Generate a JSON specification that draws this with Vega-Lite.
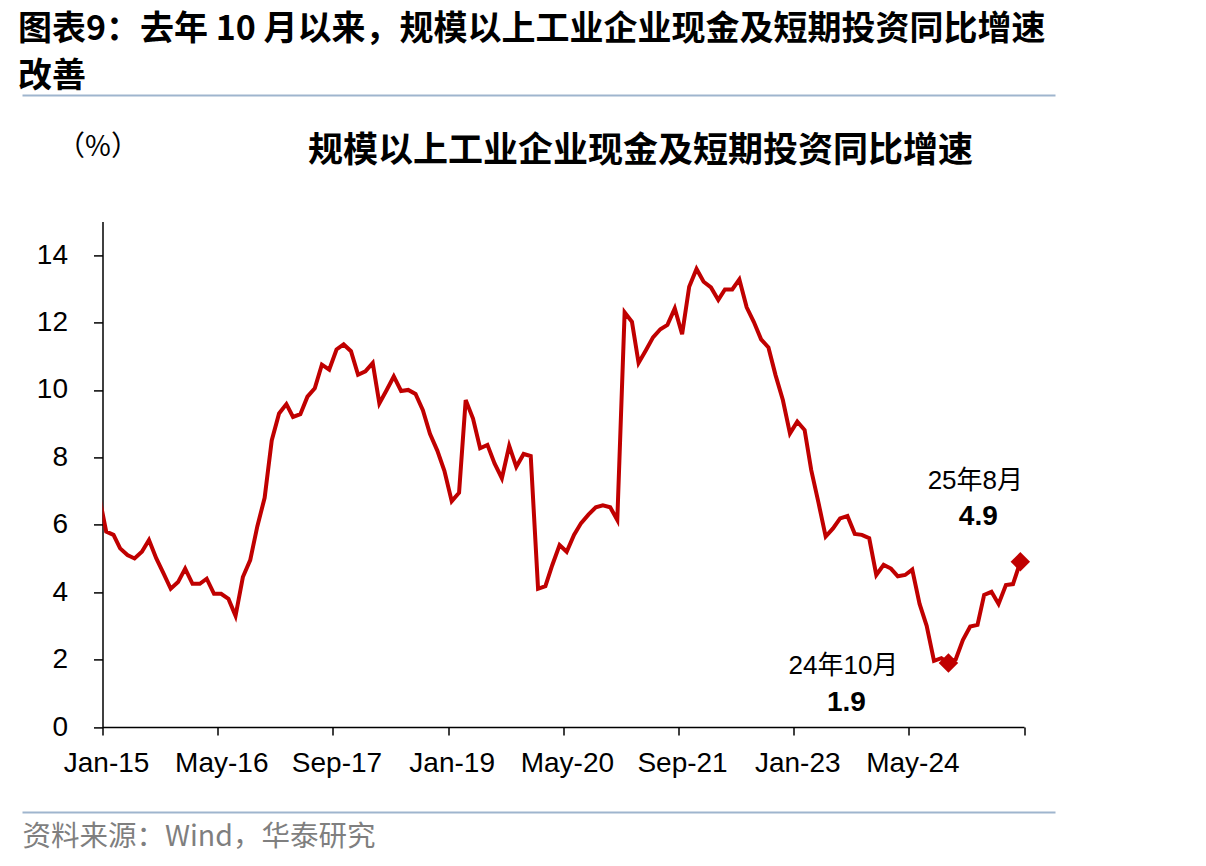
{
  "$schema": "https://vega.github.io/schema/vega-lite/v6.json",
  "width": 921.5,
  "height": 505.6,
  "autosize": "none",
  "padding": {"left": 102.5, "top": 221.4, "right": 182, "bottom": 139},
  "background": "white",
  "config": {"view": {"stroke": null}, "axis": {"grid": false}},
  "title": {
    "text": ["图表9：去年 10 月以来，规模以上工业企业现金及短期投资同比增速", "改善"],
    "anchor": "start",
    "frame": "bounds",
    "font": "Noto Sans CJK SC",
    "fontSize": 34,
    "fontWeight": "bold",
    "color": "black",
    "lineHeight": 47,
    "offset": 1
  },
  "datasets": {
    "main": [
      {"month": "2014-12-01", "v": 6.9},
      {"month": "2015-01-01", "v": 5.8},
      {"month": "2015-02-01", "v": 5.7},
      {"month": "2015-03-01", "v": 5.3},
      {"month": "2015-04-01", "v": 5.1},
      {"month": "2015-05-01", "v": 5.0},
      {"month": "2015-06-01", "v": 5.2},
      {"month": "2015-07-01", "v": 5.55},
      {"month": "2015-08-01", "v": 5.0},
      {"month": "2015-09-01", "v": 4.55},
      {"month": "2015-10-01", "v": 4.1},
      {"month": "2015-11-01", "v": 4.3},
      {"month": "2015-12-01", "v": 4.7},
      {"month": "2016-01-01", "v": 4.25},
      {"month": "2016-02-01", "v": 4.25},
      {"month": "2016-03-01", "v": 4.4},
      {"month": "2016-04-01", "v": 3.95},
      {"month": "2016-05-01", "v": 3.95},
      {"month": "2016-06-01", "v": 3.8},
      {"month": "2016-07-01", "v": 3.3},
      {"month": "2016-08-01", "v": 4.45},
      {"month": "2016-09-01", "v": 4.95},
      {"month": "2016-10-01", "v": 5.95},
      {"month": "2016-11-01", "v": 6.8},
      {"month": "2016-12-01", "v": 8.5},
      {"month": "2017-01-01", "v": 9.3},
      {"month": "2017-02-01", "v": 9.58},
      {"month": "2017-03-01", "v": 9.2},
      {"month": "2017-04-01", "v": 9.28},
      {"month": "2017-05-01", "v": 9.8},
      {"month": "2017-06-01", "v": 10.05},
      {"month": "2017-07-01", "v": 10.75},
      {"month": "2017-08-01", "v": 10.6},
      {"month": "2017-09-01", "v": 11.2},
      {"month": "2017-10-01", "v": 11.35},
      {"month": "2017-11-01", "v": 11.15},
      {"month": "2017-12-01", "v": 10.45},
      {"month": "2018-01-01", "v": 10.55},
      {"month": "2018-02-01", "v": 10.8},
      {"month": "2018-03-01", "v": 9.6},
      {"month": "2018-04-01", "v": 10.0},
      {"month": "2018-05-01", "v": 10.4},
      {"month": "2018-06-01", "v": 9.97},
      {"month": "2018-07-01", "v": 10.0},
      {"month": "2018-08-01", "v": 9.88},
      {"month": "2018-09-01", "v": 9.4},
      {"month": "2018-10-01", "v": 8.7},
      {"month": "2018-11-01", "v": 8.2},
      {"month": "2018-12-01", "v": 7.6},
      {"month": "2019-01-01", "v": 6.7},
      {"month": "2019-02-01", "v": 6.95},
      {"month": "2019-03-01", "v": 9.7},
      {"month": "2019-04-01", "v": 9.15},
      {"month": "2019-05-01", "v": 8.27},
      {"month": "2019-06-01", "v": 8.37},
      {"month": "2019-07-01", "v": 7.82},
      {"month": "2019-08-01", "v": 7.38},
      {"month": "2019-09-01", "v": 8.34},
      {"month": "2019-10-01", "v": 7.72},
      {"month": "2019-11-01", "v": 8.1},
      {"month": "2019-12-01", "v": 8.04},
      {"month": "2020-01-01", "v": 4.1},
      {"month": "2020-02-01", "v": 4.18},
      {"month": "2020-03-01", "v": 4.8},
      {"month": "2020-04-01", "v": 5.4},
      {"month": "2020-05-01", "v": 5.2},
      {"month": "2020-06-01", "v": 5.7},
      {"month": "2020-07-01", "v": 6.05},
      {"month": "2020-08-01", "v": 6.3},
      {"month": "2020-09-01", "v": 6.52},
      {"month": "2020-10-01", "v": 6.58},
      {"month": "2020-11-01", "v": 6.52},
      {"month": "2020-12-01", "v": 6.14},
      {"month": "2021-01-01", "v": 12.3},
      {"month": "2021-02-01", "v": 12.02},
      {"month": "2021-03-01", "v": 10.8},
      {"month": "2021-04-01", "v": 11.18},
      {"month": "2021-05-01", "v": 11.56},
      {"month": "2021-06-01", "v": 11.8},
      {"month": "2021-07-01", "v": 11.93},
      {"month": "2021-08-01", "v": 12.42},
      {"month": "2021-09-01", "v": 11.65},
      {"month": "2021-10-01", "v": 13.06},
      {"month": "2021-11-01", "v": 13.59},
      {"month": "2021-12-01", "v": 13.21},
      {"month": "2022-01-01", "v": 13.04},
      {"month": "2022-02-01", "v": 12.67},
      {"month": "2022-03-01", "v": 12.98},
      {"month": "2022-04-01", "v": 12.98},
      {"month": "2022-05-01", "v": 13.28},
      {"month": "2022-06-01", "v": 12.45},
      {"month": "2022-07-01", "v": 12.02},
      {"month": "2022-08-01", "v": 11.5},
      {"month": "2022-09-01", "v": 11.26},
      {"month": "2022-10-01", "v": 10.44},
      {"month": "2022-11-01", "v": 9.7},
      {"month": "2022-12-01", "v": 8.71},
      {"month": "2023-01-01", "v": 9.06},
      {"month": "2023-02-01", "v": 8.81},
      {"month": "2023-03-01", "v": 7.62},
      {"month": "2023-04-01", "v": 6.64},
      {"month": "2023-05-01", "v": 5.65},
      {"month": "2023-06-01", "v": 5.89},
      {"month": "2023-07-01", "v": 6.19},
      {"month": "2023-08-01", "v": 6.26},
      {"month": "2023-09-01", "v": 5.73},
      {"month": "2023-10-01", "v": 5.7},
      {"month": "2023-11-01", "v": 5.6},
      {"month": "2023-12-01", "v": 4.51},
      {"month": "2024-01-01", "v": 4.81},
      {"month": "2024-02-01", "v": 4.7},
      {"month": "2024-03-01", "v": 4.47},
      {"month": "2024-04-01", "v": 4.51},
      {"month": "2024-05-01", "v": 4.67},
      {"month": "2024-06-01", "v": 3.65},
      {"month": "2024-07-01", "v": 3.0},
      {"month": "2024-08-01", "v": 1.96},
      {"month": "2024-09-01", "v": 2.04},
      {"month": "2024-10-01", "v": 1.9},
      {"month": "2024-11-01", "v": 2.01},
      {"month": "2024-12-01", "v": 2.58},
      {"month": "2025-01-01", "v": 2.98},
      {"month": "2025-02-01", "v": 3.03},
      {"month": "2025-03-01", "v": 3.92},
      {"month": "2025-04-01", "v": 4.01},
      {"month": "2025-05-01", "v": 3.65},
      {"month": "2025-06-01", "v": 4.21},
      {"month": "2025-07-01", "v": 4.24},
      {"month": "2025-08-01", "v": 4.9}
    ],
    "marks": [
      {"month": "2024-10-01", "v": 1.9, "label": "24年10月"},
      {"month": "2025-08-01", "v": 4.9, "label": "25年8月"}
    ]
  },
  "resolve": {"scale": {"x": "independent"}, "axis": {"x": "independent"}},
  "layer": [
    {
      "data": {"name": "main"},
      "mark": {"type": "line", "color": "#C00000", "strokeWidth": 4, "clip": true},
      "encoding": {
        "x": {
          "field": "month", "type": "temporal",
          "scale": {"type": "utc", "domain": [
            {"year": 2014, "month": 12, "date": 16, "hours": 12, "utc": true},
            {"year": 2025, "month": 8, "date": 16, "hours": 12, "utc": true}]},
          "axis": {
            "values": [
              {"year": 2014, "month": 12, "date": 16, "hours": 12, "utc": true},
              {"year": 2016, "month": 4, "date": 16, "hours": 12, "utc": true},
              {"year": 2017, "month": 8, "date": 16, "hours": 12, "utc": true},
              {"year": 2018, "month": 12, "date": 16, "hours": 12, "utc": true},
              {"year": 2020, "month": 4, "date": 16, "hours": 12, "utc": true},
              {"year": 2021, "month": 8, "date": 16, "hours": 12, "utc": true},
              {"year": 2022, "month": 12, "date": 16, "hours": 12, "utc": true},
              {"year": 2024, "month": 4, "date": 16, "hours": 12, "utc": true},
              {"year": 2025, "month": 8, "date": 16, "hours": 12, "utc": true}
            ],
            "labelExpr": "datum.value > 1740000000000 ? '' : utcFormat(datum.value + 1382400000, '%b-%y')",
            "labelOffset": 3.6,
            "labelFlush": false,
            "labelOverlap": false,
            "labelFont": "Liberation Sans",
            "labelFontSize": 28,
            "labelColor": "black",
            "labelPadding": 14,
            "tickSize": 8,
            "tickColor": "black",
            "tickWidth": 1.5,
            "domainColor": "black",
            "domainWidth": 1.5,
            "title": null
          }
        },
        "y": {
          "field": "v", "type": "quantitative",
          "scale": {"domain": [0, 15], "nice": false, "zero": true},
          "axis": {
            "values": [0, 2, 4, 6, 8, 10, 12, 14],
            "labelFont": "Liberation Sans",
            "labelFontSize": 28,
            "labelColor": "black",
            "labelPadding": 26,
            "tickSize": 9,
            "tickColor": "black",
            "tickWidth": 1.5,
            "domainColor": "black",
            "domainWidth": 1.5,
            "title": "（%）",
            "titleAngle": 0,
            "titleX": -5,
            "titleY": -74,
            "titleAlign": "center",
            "titleBaseline": "middle",
            "titleFont": "Noto Sans CJK SC",
            "titleFontSize": 28,
            "titleFontWeight": "normal",
            "titleColor": "black"
          }
        }
      }
    },
    {
      "data": {"name": "marks"},
      "mark": {"type": "point", "shape": "diamond", "filled": true, "size": 380, "color": "#C00000", "opacity": 1},
      "encoding": {
        "x": {"field": "month", "type": "temporal", "axis": null,
          "scale": {"type": "utc", "domain": [
            {"year": 2014, "month": 12, "date": 16, "hours": 12, "utc": true},
            {"year": 2025, "month": 8, "date": 16, "hours": 12, "utc": true}]}},
        "y": {"field": "v", "type": "quantitative"}
      }
    },
    {
      "data": {"name": "marks"},
      "transform": [{"filter": "datum.label == '24年10月'"}],
      "mark": {"type": "text", "font": "Liberation Sans, Noto Sans CJK SC", "fontSize": 26, "color": "black", "dx": -105, "dy": 3, "align": "center", "baseline": "middle"},
      "encoding": {
        "x": {"field": "month", "type": "temporal", "axis": null,
          "scale": {"type": "utc", "domain": [
            {"year": 2014, "month": 12, "date": 16, "hours": 12, "utc": true},
            {"year": 2025, "month": 8, "date": 16, "hours": 12, "utc": true}]}},
        "y": {"field": "v", "type": "quantitative"},
        "text": {"field": "label"}
      }
    },
    {
      "data": {"name": "marks"},
      "transform": [{"filter": "datum.label == '24年10月'"}],
      "mark": {"type": "text", "font": "Liberation Sans", "fontSize": 28, "fontWeight": "bold", "color": "black", "dx": -102, "dy": 40, "align": "center", "baseline": "middle"},
      "encoding": {
        "x": {"field": "month", "type": "temporal", "axis": null,
          "scale": {"type": "utc", "domain": [
            {"year": 2014, "month": 12, "date": 16, "hours": 12, "utc": true},
            {"year": 2025, "month": 8, "date": 16, "hours": 12, "utc": true}]}},
        "y": {"field": "v", "type": "quantitative"},
        "text": {"field": "v", "type": "quantitative", "format": ".1f"}
      }
    },
    {
      "data": {"name": "marks"},
      "transform": [{"filter": "datum.label == '25年8月'"}],
      "mark": {"type": "text", "font": "Liberation Sans, Noto Sans CJK SC", "fontSize": 26, "color": "black", "dx": -45, "dy": -81, "align": "center", "baseline": "middle"},
      "encoding": {
        "x": {"field": "month", "type": "temporal", "axis": null,
          "scale": {"type": "utc", "domain": [
            {"year": 2014, "month": 12, "date": 16, "hours": 12, "utc": true},
            {"year": 2025, "month": 8, "date": 16, "hours": 12, "utc": true}]}},
        "y": {"field": "v", "type": "quantitative"},
        "text": {"field": "label"}
      }
    },
    {
      "data": {"name": "marks"},
      "transform": [{"filter": "datum.label == '25年8月'"}],
      "mark": {"type": "text", "font": "Liberation Sans", "fontSize": 28, "fontWeight": "bold", "color": "black", "dx": -42, "dy": -45, "align": "center", "baseline": "middle"},
      "encoding": {
        "x": {"field": "month", "type": "temporal", "axis": null,
          "scale": {"type": "utc", "domain": [
            {"year": 2014, "month": 12, "date": 16, "hours": 12, "utc": true},
            {"year": 2025, "month": 8, "date": 16, "hours": 12, "utc": true}]}},
        "y": {"field": "v", "type": "quantitative"},
        "text": {"field": "v", "type": "quantitative", "format": ".1f"}
      }
    },
    {
      "data": {"name": "main"},
      "mark": {"type": "line", "strokeOpacity": 0},
      "encoding": {
        "x": {"field": "month", "type": "temporal",
          "scale": {"type": "utc", "range": [-80.5, 952.5], "domain": [
            {"year": 2014, "month": 12, "date": 16, "hours": 12, "utc": true},
            {"year": 2025, "month": 8, "date": 16, "hours": 12, "utc": true}]},
          "axis": {
            "orient": "top", "offset": 126.4,
            "domainColor": "#9FB5CE", "domainWidth": 2,
            "ticks": false, "labels": false,
            "title": "规模以上工业企业现金及短期投资同比增速",
            "titleX": 537.5, "titleY": 55,
            "titleAlign": "center", "titleBaseline": "middle",
            "titleFont": "Noto Sans CJK SC", "titleFontSize": 35, "titleFontWeight": "bold", "titleColor": "black"
          }},
        "y": {"field": "v", "type": "quantitative"}
      }
    },
    {
      "data": {"name": "main"},
      "mark": {"type": "line", "strokeOpacity": 0},
      "encoding": {
        "x": {"field": "month", "type": "temporal",
          "scale": {"type": "utc", "range": [-80.5, 952.5], "domain": [
            {"year": 2014, "month": 12, "date": 16, "hours": 12, "utc": true},
            {"year": 2025, "month": 8, "date": 16, "hours": 12, "utc": true}]},
          "axis": {
            "orient": "bottom", "offset": 85,
            "domainColor": "#9FB5CE", "domainWidth": 2,
            "ticks": false, "labels": false,
            "title": "资料来源：Wind，华泰研究",
            "titleX": -80.5, "titleY": 24,
            "titleAlign": "left", "titleBaseline": "middle",
            "titleFont": "Noto Sans CJK SC", "titleFontSize": 28.5, "titleFontWeight": "normal", "titleColor": "#7F7F7F"
          }},
        "y": {"field": "v", "type": "quantitative"}
      }
    }
  ]
}
